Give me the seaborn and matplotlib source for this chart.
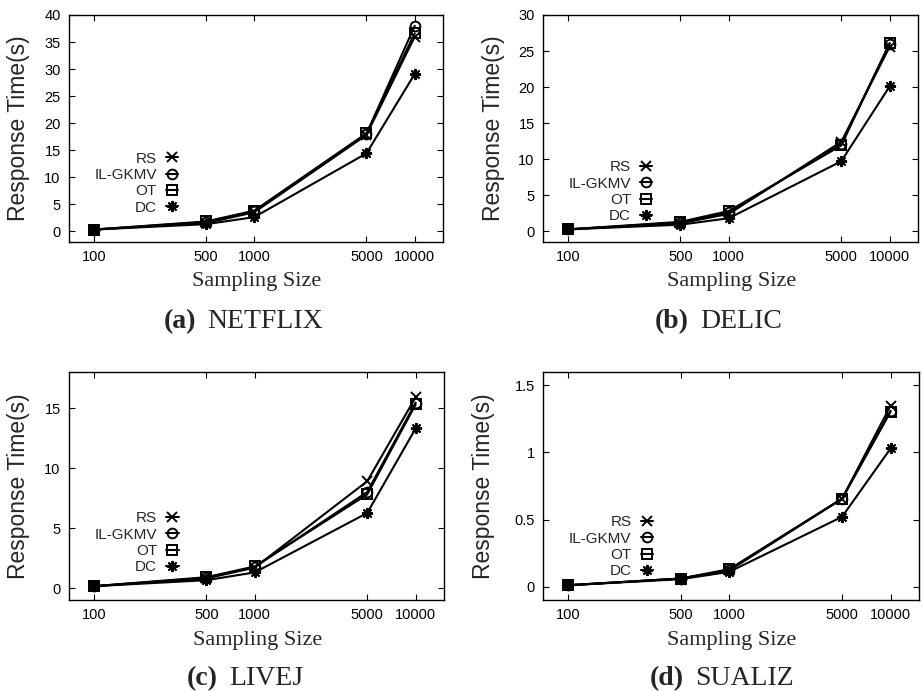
import pandas as pd
import matplotlib
matplotlib.use("Agg")
import matplotlib.pyplot as plt
import seaborn as sns

# === Data ===
sizes = [100, 500, 1000, 5000, 10000]
methods = ["RS", "IL-GKMV", "OT", "DC"]

netflix_rs = [0.3, 1.5, 3.5, 17.8, 36.0]
netflix_il = [0.3, 1.7, 3.7, 18.0, 38.0]
netflix_ot = [0.3, 1.8, 3.8, 18.1, 36.6]
netflix_dc = [0.3, 1.3, 2.6, 14.4, 29.1]

delic_rs = [0.25, 1.1, 2.4, 12.4, 25.6]
delic_il = [0.25, 1.2, 2.6, 12.1, 26.0]
delic_ot = [0.25, 1.3, 2.8, 11.9, 26.1]
delic_dc = [0.25, 0.9, 1.8, 9.7, 20.1]

livej_rs = [0.15, 0.8, 1.7, 8.9, 15.9]
livej_il = [0.15, 0.85, 1.75, 8.0, 15.45]
livej_ot = [0.15, 0.9, 1.8, 7.8, 15.3]
livej_dc = [0.15, 0.65, 1.3, 6.25, 13.3]

sualiz_rs = [0.01, 0.06, 0.12, 0.655, 1.35]
sualiz_il = [0.01, 0.06, 0.125, 0.655, 1.31]
sualiz_ot = [0.01, 0.06, 0.13, 0.655, 1.305]
sualiz_dc = [0.01, 0.055, 0.11, 0.52, 1.03]

panels = [
    ("(a)", "NETFLIX", [netflix_rs, netflix_il, netflix_ot, netflix_dc], (-2, 40), [0, 5, 10, 15, 20, 25, 30, 35, 40], None),
    ("(b)", "DELIC", [delic_rs, delic_il, delic_ot, delic_dc], (-1.5, 30), [0, 5, 10, 15, 20, 25, 30], None),
    ("(c)", "LIVEJ", [livej_rs, livej_il, livej_ot, livej_dc], (-1, 18), [0, 5, 10, 15], None),
    ("(d)", "SUALIZ", [sualiz_rs, sualiz_il, sualiz_ot, sualiz_dc], (-0.1, 1.6), [0, 0.5, 1, 1.5], ["0", "0.5", "1", "1.5"]),
]

# === Layout (pixel boxes: left, right, top, bottom) ===
W, H = 923, 691
boxes = [(69, 443, 15, 242), (543, 918, 15, 242), (69, 444, 372, 600), (543, 919, 372, 600)]
ylabel_x = [-0.134, -0.131, -0.134, -0.157]
legend_top = [0.398, 0.360, 0.389, 0.371]
caption_pos = [(207, 328), (700, 328), (229, 685), (695, 685)]

marker_styles = {
    "RS": dict(marker="x", markersize=7),
    "IL-GKMV": dict(marker="o", markersize=7, markerfacecolor="none"),
    "OT": dict(marker="s", markersize=7, markerfacecolor="none"),
    "DC": dict(marker=(8, 2, 0), markersize=8),
}

sns.set_theme(style="ticks")
plt.rcParams["font.family"] = ["Liberation Sans", "DejaVu Sans"]
plt.rcParams["axes.linewidth"] = 1.0

fig = plt.figure(figsize=(W / 100, H / 100), dpi=100)

for i, (tag, name, series, ylim, yticks, yticklabels) in enumerate(panels):
    l, r, t, b = boxes[i]
    ax = fig.add_axes([l / W, 1 - b / H, (r - l) / W, (b - t) / H])

    for method, vals in zip(methods, series):
        df = pd.DataFrame({"size": sizes, "time": vals})
        sns.lineplot(data=df, x="size", y="time", ax=ax, color="black", lw=1.5,
                     markeredgecolor="black", markeredgewidth=1.4, label=method,
                     **marker_styles[method])

    ax.set_xscale("log")
    ax.set_xlim(70, 15000)
    ax.set_xticks(sizes)
    ax.set_xticklabels([str(s) for s in sizes])
    ax.minorticks_off()
    ax.set_ylim(*ylim)
    ax.set_yticks(yticks)
    if yticklabels:
        ax.set_yticklabels(yticklabels)
    ax.tick_params(direction="in", top=True, right=True, length=4, width=0.8,
                   labelsize=10.5, pad=6, colors="black")
    for sp in ax.spines.values():
        sp.set_color("black")

    ax.set_ylabel("Response Time(s)", fontsize=16.5, va="center", ha="center")
    ax.yaxis.set_label_coords(ylabel_x[i], 0.5)
    ax.set_xlabel("Sampling Size", fontsize=16, family="Liberation Serif", va="baseline")
    ax.xaxis.set_label_coords(0.502, -0.196)

    ax.legend(loc="upper right", bbox_to_anchor=(0.292, legend_top[i]), frameon=False,
              markerfirst=False, handlelength=0.8, handletextpad=0.6, labelspacing=0.15,
              borderpad=0, borderaxespad=0, fontsize=11)

    cx, cy = caption_pos[i]
    fig.text((cx - 11) / W, 1 - cy / H, tag, ha="right", va="baseline", fontsize=20,
             family="Liberation Serif", fontweight="bold")
    fig.text(cx / W, 1 - cy / H, name, ha="left", va="baseline", fontsize=20,
             family="Liberation Serif")

plt.savefig("out.png", dpi=100)
plt.close()
